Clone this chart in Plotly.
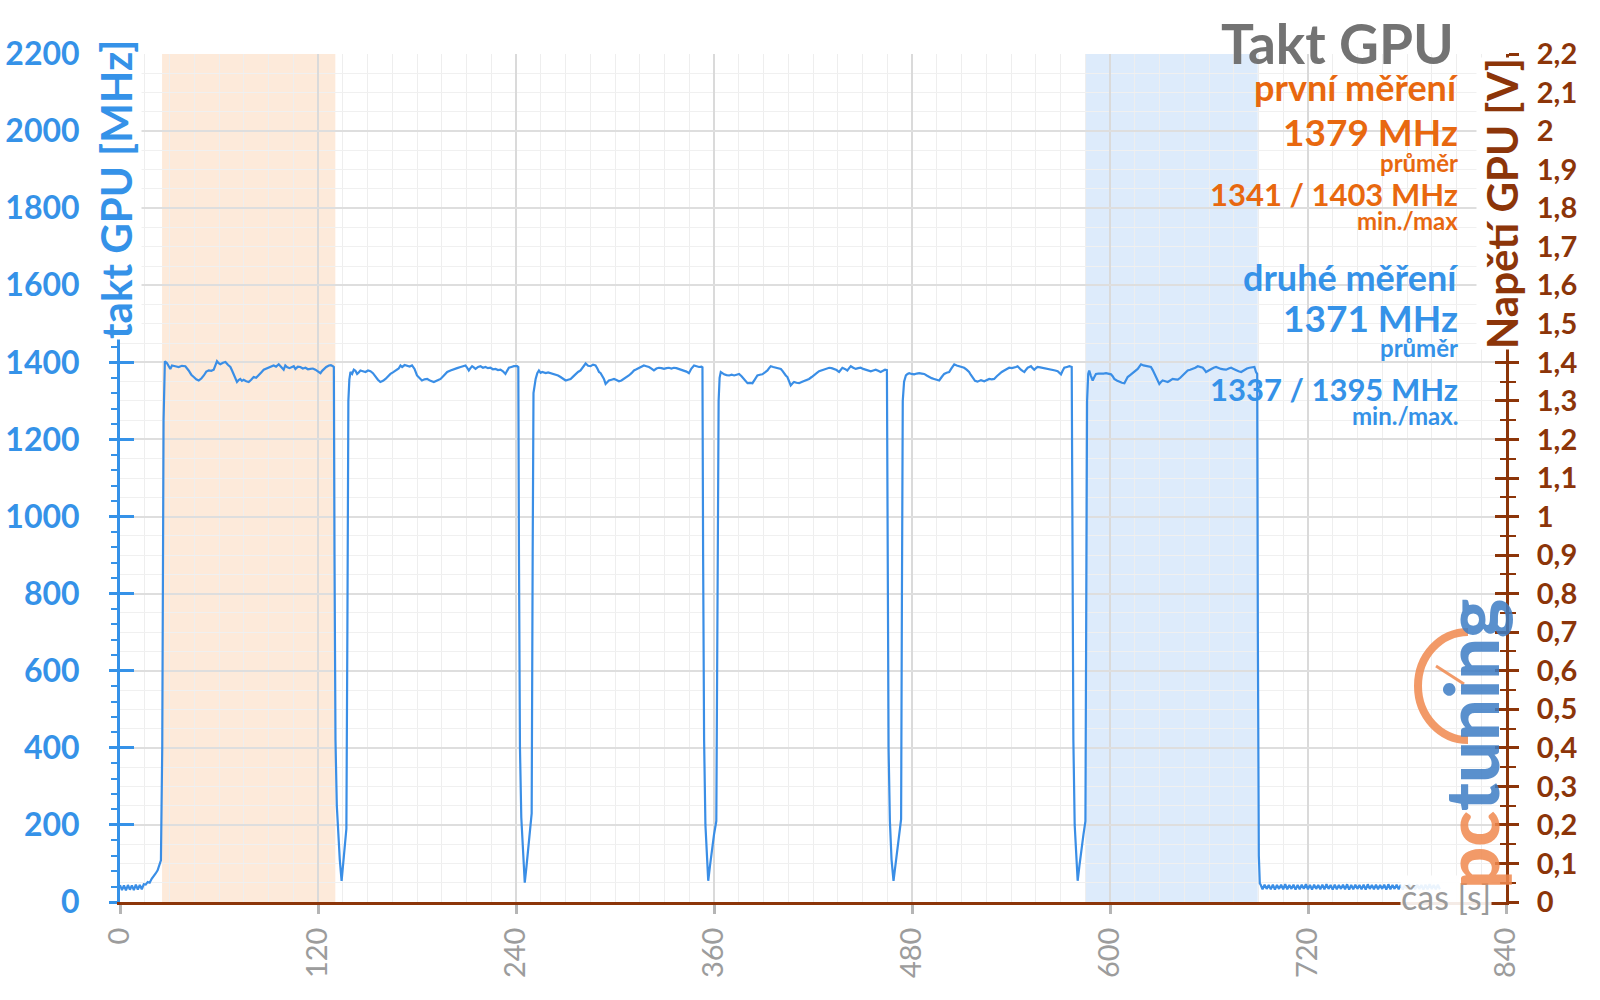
import plotly.graph_objects as go

# ---------------- data ----------------
time_s = [
    0, 1.2, 2.4, 3.6, 4.8, 6.0, 7.2, 8.4, 9.6, 10.8, 12.0, 13.2, 14.4, 15.6, 16.8, 18.0, 19.2, 20.4, 21.6, 22.8, 24.0, 24.8, 25.6, 26.4, 27.2,
    28.5, 30.5, 31.5, 33.5, 35.6, 37.5, 39.6, 41.6, 43.2, 44.7, 46.2, 47.7, 49.3, 50.8, 52.3, 53.8, 55.3, 56.8, 57.8, 58.8, 59.8, 60.8, 62.4, 63.9,
    65.4, 66.9, 67.9, 68.9, 69.9, 70.9, 71.9, 72.9, 73.9, 74.9, 76.5, 78.0, 79.5, 81.0, 82.5, 84.1, 85.6, 87.1, 88.6, 90.1, 91.6, 93.1, 94.6, 96.2,
    97.7, 99.2, 100.2, 101.2, 102.7, 104.3, 105.3, 106.3, 107.8, 109.3, 110.8, 112.4, 113.9, 115.4, 116.9, 118.4, 120.0, 121.5, 122.5, 123.5, 125.0,
    126.6, 127.8, 129.0, 129.6,
    130.0, 130.6, 131.4, 132.3, 133.2, 134.3, 135.2, 136.3, 137.2, 137.8, 138.4, 139.0,
    139.7, 140.7, 141.7, 142.7, 143.7, 144.7, 145.7, 147.2, 148.8, 150.3, 151.8, 153.3, 154.8, 156.3, 157.8, 159.4, 160.9, 162.4, 163.9, 165.4,
    166.9, 168.9, 170.0, 171.0, 172.5, 174.0, 175.5, 177.0, 178.5, 180.0, 181.5, 183.0, 184.6, 186.2, 188.2, 190.2, 192.2, 194.3, 196.3, 198.3,
    200.3, 202.3, 204.3, 206.4, 207.9, 209.4, 210.4, 211.4, 212.4, 213.4, 214.4, 215.5, 217.0, 218.5, 220.0, 221.5, 223.0, 224.5, 226.0, 227.6,
    229.1, 230.6, 232.1, 233.6, 234.6, 235.7, 237.2, 238.7, 240.7, 241.4,
    241.8, 242.4, 243.2, 244.2, 245.3, 246.3, 247.4, 248.6, 249.5, 250.1, 250.6, 251.9,
    252.9, 253.9, 254.9, 255.9, 258.0, 259.5, 261.0, 262.5, 264.0, 265.5, 267.0, 268.5, 270.1, 271.6, 273.1, 274.6, 276.1, 277.6, 279.1, 280.6,
    282.2, 283.7, 285.2, 286.7, 288.2, 289.3, 290.3, 291.3, 292.3, 293.3, 294.3, 295.3, 296.3, 297.9, 299.4, 300.9, 302.4, 303.9, 305.4, 306.9,
    308.4, 310.0, 311.5, 313.0, 314.5, 316.0, 317.5, 319.0, 320.6, 322.1, 323.6, 325.1, 326.6, 328.2, 329.7, 331.2, 332.7, 334.2, 335.7, 337.2,
    338.8, 340.3, 341.8, 343.3, 344.8, 346.3, 347.9, 349.4, 350.9, 352.4, 353.0,
    353.4, 354.0, 354.8, 355.6, 356.5, 357.6, 358.8, 360.0, 361.4, 362.2, 362.8, 363.4,
    364.1, 365.1, 366.1, 367.6, 369.2, 370.7, 372.2, 373.7, 375.2, 376.7, 378.2, 379.3, 380.3, 381.8, 383.3, 384.8, 386.3, 387.8, 389.3, 390.9,
    392.4, 393.4, 394.4, 395.9, 397.4, 398.9, 400.5, 401.5, 402.5, 403.5, 404.5, 405.5, 406.5, 407.5, 408.5, 410.0, 411.6, 413.1, 414.6, 416.1,
    417.6, 419.2, 420.7, 422.2, 423.7, 425.2, 426.7, 428.3, 429.8, 431.3, 432.8, 434.3, 435.8, 436.8, 437.8, 439.3, 440.8, 441.9, 442.9, 444.4,
    445.9, 447.4, 448.9, 450.4, 451.9, 453.5, 455.0, 456.5, 458.0, 459.5, 461.0, 462.4, 463.7, 464.8,
    465.2, 465.8, 466.6, 467.6, 468.8, 469.9, 471.0, 472.2, 473.4, 473.9, 474.4, 475.2,
    476.3, 477.3, 478.3, 479.8, 481.3, 482.9, 484.4, 485.9, 487.4, 488.9, 490.4, 491.9, 493.4, 495.0, 496.5, 498.0, 499.5, 501.0, 502.5, 504.0,
    505.6, 507.1, 508.6, 510.1, 511.6, 513.1, 514.6, 515.6, 516.7, 518.2, 519.7, 521.8, 523.8, 525.3, 526.8, 528.3, 529.8, 531.4, 532.9, 534.4,
    535.9, 537.4, 538.9, 540.5, 542.0, 543.0, 544.0, 545.0, 546.0, 547.0, 548.1, 549.1, 550.1, 551.1, 552.1, 553.1, 554.1, 555.1, 556.1, 557.7,
    559.2, 560.7, 562.2, 563.8, 565.3, 566.8, 568.3, 569.3, 570.3, 571.3, 572.3, 573.9, 575.4, 576.8,
    577.2, 577.8, 578.6, 579.5, 580.4, 581.5, 582.7, 583.9, 585.1, 585.7, 586.1, 586.8,
    587.4, 588.4, 589.5, 590.5, 591.5, 593.0, 594.6, 596.1, 597.6, 599.1, 600.6, 601.6, 602.6, 604.1, 605.7, 607.2, 608.7, 609.7, 610.7, 612.2,
    613.8, 615.3, 616.8, 617.8, 618.8, 620.3, 621.8, 623.3, 624.8, 625.9, 626.9, 628.4, 629.9, 630.9, 631.9, 633.5, 635.0, 636.5, 638.0, 639.6,
    641.1, 642.6, 644.1, 645.6, 647.1, 648.6, 650.2, 651.7, 653.2, 654.7, 656.2, 657.2, 658.2, 659.8, 661.3, 662.8, 664.3, 665.8, 667.3, 668.8,
    670.4, 671.9, 673.4, 674.9, 676.4, 677.9, 679.5, 680.5, 681.5, 683.0, 684.5, 686.0, 687.5, 688.5, 689.2,
    689.6, 690.2, 690.8,
]
clock_mhz = [
    44, 31, 43, 30, 44, 32, 43, 31, 45, 32, 44, 33, 46, 45, 52, 50, 60, 66, 74, 82, 95, 108, 400, 1250, 1403,
    1398, 1383, 1392, 1390, 1388, 1391, 1390, 1379, 1368, 1362, 1356, 1353, 1358, 1366, 1376, 1379, 1378, 1381, 1395, 1403, 1398, 1395, 1399, 1401,
    1394, 1388, 1379, 1370, 1360, 1349, 1354, 1357, 1352, 1355, 1351, 1349, 1355, 1362, 1360, 1366, 1374, 1381, 1384, 1386, 1390, 1392, 1389, 1395,
    1388, 1381, 1392, 1388, 1385, 1388, 1390, 1383, 1389, 1388, 1384, 1386, 1382, 1383, 1384, 1381, 1376, 1372, 1378, 1383, 1388,
    1392, 1393, 1390, 1388,
    900, 420, 250, 160, 110, 55, 95, 150, 190, 700, 1300, 1355,
    1375, 1370, 1381, 1378, 1370, 1374, 1379, 1377, 1375, 1379, 1377, 1372, 1362, 1355, 1349, 1352, 1357, 1364, 1370, 1374,
    1379, 1384, 1392, 1388, 1393, 1390, 1389, 1392, 1383, 1366, 1358, 1353, 1356, 1357, 1352, 1349, 1353, 1357, 1366, 1375,
    1379, 1383, 1385, 1388, 1390, 1392, 1386, 1379, 1385, 1390, 1387, 1383, 1388, 1390, 1386, 1388, 1385, 1386, 1382, 1383,
    1380, 1381, 1377, 1370, 1378, 1386, 1388, 1390, 1390, 1388,
    900, 400, 220, 120, 50, 90, 140, 185, 230, 900, 1320, 1357,
    1372, 1379, 1373, 1375, 1372, 1374, 1372, 1370, 1369, 1366, 1362, 1357, 1353, 1355, 1357, 1363, 1370, 1375, 1379, 1388,
    1397, 1391, 1390, 1394, 1392, 1384, 1375, 1372, 1366, 1357, 1344, 1350, 1353, 1355, 1357, 1354, 1351, 1353, 1357, 1362,
    1366, 1372, 1379, 1382, 1386, 1389, 1392, 1390, 1388, 1384, 1379, 1384, 1386, 1385, 1383, 1385, 1386, 1384, 1386, 1385,
    1383, 1381, 1379, 1376, 1372, 1384, 1392, 1390, 1388, 1389, 1387,
    900, 420, 200, 110, 55, 95, 140, 175, 210, 700, 1300, 1360,
    1375, 1372, 1369, 1367, 1366, 1368, 1366, 1368, 1370, 1364, 1357, 1350, 1346, 1347, 1346, 1356, 1366, 1368, 1369, 1374,
    1379, 1385, 1390, 1388, 1386, 1385, 1383, 1378, 1370, 1366, 1362, 1350, 1340, 1345, 1349, 1347, 1346, 1349, 1351, 1354,
    1357, 1362, 1366, 1372, 1377, 1379, 1381, 1384, 1386, 1385, 1383, 1380, 1375, 1381, 1386, 1383, 1379, 1385, 1390, 1386,
    1383, 1385, 1386, 1383, 1381, 1379, 1377, 1379, 1381, 1378, 1375, 1378, 1381, 1380,
    900, 400, 210, 110, 55, 95, 140, 175, 215, 800, 1300, 1350,
    1366, 1370, 1372, 1370, 1369, 1371, 1372, 1371, 1370, 1366, 1362, 1359, 1357, 1355, 1353, 1362, 1370, 1373, 1375, 1385,
    1395, 1392, 1390, 1388, 1386, 1381, 1375, 1368, 1362, 1352, 1350, 1354, 1351, 1354, 1357, 1356, 1357, 1364, 1370, 1375,
    1379, 1383, 1386, 1385, 1386, 1388, 1390, 1385, 1381, 1378, 1375, 1381, 1386, 1388, 1390, 1385, 1381, 1385, 1388, 1387,
    1386, 1385, 1383, 1382, 1381, 1379, 1377, 1373, 1369, 1378, 1386, 1388, 1390, 1388,
    900, 420, 200, 110, 55, 95, 140, 175, 210, 800, 1300, 1370,
    1379, 1365, 1353, 1362, 1370, 1371, 1370, 1371, 1372, 1370, 1369, 1364, 1357, 1353, 1349, 1347, 1346, 1354, 1362, 1367,
    1372, 1378, 1383, 1389, 1395, 1392, 1390, 1389, 1388, 1380, 1370, 1357, 1344, 1349, 1353, 1351, 1349, 1353, 1357, 1356,
    1355, 1360, 1366, 1373, 1379, 1381, 1383, 1386, 1390, 1388, 1386, 1381, 1375, 1379, 1383, 1386, 1388, 1385, 1383, 1382,
    1381, 1384, 1386, 1383, 1379, 1377, 1375, 1378, 1381, 1384, 1386, 1387, 1388, 1375, 1370,
    700, 120, 48,
]
# idle tail after the test (sampled every IDLE_TAIL_STEP seconds)
IDLE_TAIL_START = 691.2
IDLE_TAIL_STEP = 1.25
idle_tail_mhz = [
    46, 33, 45, 34, 44, 33, 45, 32, 44, 34, 45, 33, 46, 33, 44, 34, 45, 32, 44, 33, 45, 34, 46, 33, 44, 32, 45, 34, 44, 33,
    45, 33, 46, 34, 44, 32, 45, 33, 44, 34, 45, 33, 46, 32, 44, 33, 45, 34, 44, 33, 45, 32, 46, 34, 44, 33, 45, 33, 44, 34,
    45, 32, 46, 33, 44, 34, 45, 33, 44, 32, 45, 34, 46, 33, 44, 33, 45, 34, 44, 32, 45, 33, 46, 34, 44, 33, 45, 33,
]

first_window_s = [25.5, 130.5]
second_window_s = [585.0, 689.5]

mhz_ticks = [0, 200, 400, 600, 800, 1000, 1200, 1400, 1600, 1800, 2000, 2200]
volt_ticks = [0, 0.1, 0.2, 0.3, 0.4, 0.5, 0.6, 0.7, 0.8, 0.9, 1.0, 1.1, 1.2, 1.3, 1.4, 1.5, 1.6, 1.7, 1.8, 1.9, 2.0, 2.1, 2.2]
volt_tick_labels = ["0", "0,1", "0,2", "0,3", "0,4", "0,5", "0,6", "0,7", "0,8", "0,9", "1", "1,1", "1,2", "1,3",
                    "1,4", "1,5", "1,6", "1,7", "1,8", "1,9", "2", "2,1", "2,2"]
time_ticks = [0, 120, 240, 360, 480, 600, 720, 840]

chart_title = "Takt GPU"
first_label, first_avg, first_min, first_max = "první měření", 1379, 1341, 1403
second_label, second_avg, second_min, second_max = "druhé měření", 1371, 1337, 1395

# ---------------- styling ----------------
BLUE = "#3592e8"
LINE_BLUE = "#3a8ee6"
ORANGE = "#e8680f"
BROWN = "#8c3509"
GRAY_TITLE = "#737373"
FONT = "Lato"

W, H = 1600, 1000
L, R, T, B = 120, 94, 54, 98
PW, PH = W - L - R, H - T - B


def px(xp):
    return (xp - L) / PW


def py(yp):
    return (H - B - yp) / PH


all_t = time_s + [IDLE_TAIL_START + i * IDLE_TAIL_STEP for i in range(len(idle_tail_mhz))]
all_v = clock_mhz + idle_tail_mhz

fig = go.Figure()
fig.add_trace(go.Scatter(x=all_t, y=all_v, mode="lines", line=dict(color=LINE_BLUE, width=2.2),
                         hoverinfo="skip", showlegend=False))
for ax in ["y2", "y3", "y4"]:
    fig.add_trace(go.Scatter(x=[None], y=[None], yaxis=ax, mode="lines", showlegend=False, hoverinfo="skip"))

fig.add_shape(type="rect", xref="x", yref="y", x0=first_window_s[0], x1=first_window_s[1], y0=0, y1=2200,
              fillcolor="rgb(253,234,218)", line_width=0, layer="below")
fig.add_shape(type="rect", xref="x", yref="y", x0=second_window_s[0], x1=second_window_s[1], y0=0, y1=2200,
              fillcolor="rgb(221,235,251)", line_width=0, layer="below")

# logo arc + needle (decoration)
k = 0.5523
cx, top, bot, rx = 1468, 632, 740, 50
mid = (top + bot) / 2
ry = (bot - top) / 2
arc = (f"M {px(cx)},{py(top)} C {px(cx - k*rx)},{py(top)} {px(cx - rx)},{py(mid - k*ry)} {px(cx - rx)},{py(mid)} "
       f"C {px(cx - rx)},{py(mid + k*ry)} {px(cx - k*rx)},{py(bot)} {px(cx)},{py(bot)}")
fig.add_shape(type="path", xref="paper", yref="paper", path=arc, line=dict(color="rgba(240,136,77,0.85)", width=8))
fig.add_shape(type="line", xref="paper", yref="paper", x0=px(1436), y0=py(666), x1=px(1464), y1=py(684),
              line=dict(color="rgba(240,136,77,0.85)", width=3))

ann = []


def add_text(text, xp, yp, size, color, bold=True, anchor="right", angle=0, bg=None, weight=None):
    d = dict(text=text, x=px(xp), y=py(yp), xref="paper", yref="paper", showarrow=False,
             xanchor=anchor, yanchor="middle", textangle=angle,
             font=dict(family=FONT, size=size, color=color,
                       weight=weight if weight else ("bold" if bold else "normal")))
    if bg:
        d.update(bgcolor=bg, borderpad=0)
    ann.append(d)


add_text(chart_title, 1456, 43, 55, GRAY_TITLE)
add_text(first_label, 1460, 87, 36, ORANGE)
add_text(f"{first_avg} MHz", 1460, 132, 37, ORANGE)
add_text("průměr", 1460, 162, 24, ORANGE)
add_text(f"{first_min} / {first_max} MHz", 1460, 194, 31, ORANGE)
add_text("min./max", 1460, 220, 24, ORANGE)
add_text(second_label, 1460, 277, 36, BLUE)
add_text(f"{second_avg} MHz", 1460, 317, 37, BLUE)
add_text("průměr", 1460, 347, 24, BLUE)
add_text(f"{second_min} / {second_max} MHz", 1460, 389, 31, BLUE)
add_text("min./max.", 1460, 415, 24, BLUE)

add_text("takt GPU [MHz]", 116, 190, 42, BLUE, anchor="center", angle=-90, bg="white")
add_text("Napětí GPU [V]", 1502, 204, 42, BROWN, anchor="center", angle=-90, bg="white")
add_text("čas [s]", 1492, 896, 34, "#9a9a9a", bold=False, anchor="right", bg="rgba(255,255,255,0.9)")
add_text("<span style='color:rgba(240,136,77,0.85)'>pc</span><span style='color:rgba(61,124,196,0.85)'>tuning</span>",
         1470, 744, 74, "#3d7cc4", anchor="center", angle=-90, weight=900)

fig.update_layout(
    width=W, height=H, autosize=False,
    margin=dict(l=L, r=R, t=T, b=B, pad=0, autoexpand=False),
    paper_bgcolor="white", plot_bgcolor="white",
    font=dict(family=FONT),
    showlegend=False,
    annotations=ann,
    xaxis=dict(range=[0, 840], tickvals=time_ticks, tickangle=-90, automargin=False,
               tickfont=dict(family=FONT, size=29, color="#9c9c9c"),
               ticks="outside", ticklen=9, tickwidth=3, tickcolor="#b5b5b5", ticklabelstandoff=2,
               showline=True, linecolor=BROWN, linewidth=3,
               showgrid=True, gridcolor="#dadada", gridwidth=1.5,
               minor=dict(dtick=15, showgrid=True, gridcolor="#eeeeee", gridwidth=1),
               zeroline=False, fixedrange=True),
    yaxis=dict(range=[0, 2200], tickvals=mhz_ticks, automargin=False,
               tickfont=dict(family=FONT, size=32, color=BLUE, weight="bold"),
               ticks="outside", ticklen=8, tickwidth=2.5, tickcolor=BLUE, ticklabelstandoff=23,
               showline=True, linecolor=BLUE, linewidth=3,
               showgrid=True, gridcolor="#dedede", gridwidth=1.5,
               minor=dict(dtick=50, showgrid=True, gridcolor="#f0f0f0", gridwidth=1),
               zeroline=False, fixedrange=True),
    yaxis3=dict(range=[0, 2200], overlaying="y", side="left", anchor="x", tickvals=mhz_ticks, automargin=False,
                showticklabels=False, ticks="inside", ticklen=14, tickwidth=2.5, tickcolor=BLUE,
                minor=dict(dtick=40, ticks="outside", ticklen=8, tickwidth=2, tickcolor=BLUE, showgrid=False),
                showgrid=False, showline=False, zeroline=False, fixedrange=True),
    yaxis2=dict(range=[0, 2.2], overlaying="y", side="right", anchor="x", tickvals=volt_ticks, ticktext=volt_tick_labels,
                automargin=False,
                tickfont=dict(family=FONT, size=29, color=BROWN, weight="bold"),
                ticks="outside", ticklen=10, tickwidth=2.5, tickcolor=BROWN, ticklabelstandoff=12,
                minor=dict(dtick=0.05, ticks="outside", ticklen=7, tickwidth=2, tickcolor=BROWN, showgrid=False),
                showline=True, linecolor=BROWN, linewidth=3,
                showgrid=False, zeroline=False, fixedrange=True),
    yaxis4=dict(range=[0, 2.2], overlaying="y", side="right", anchor="x", tickvals=volt_ticks, automargin=False,
                showticklabels=False, ticks="inside", ticklen=11, tickwidth=2.5, tickcolor=BROWN,
                minor=dict(dtick=0.05, ticks="inside", ticklen=6, tickwidth=2, tickcolor=BROWN, showgrid=False),
                showgrid=False, showline=False, zeroline=False, fixedrange=True),
)

fig.write_html("out.html")
